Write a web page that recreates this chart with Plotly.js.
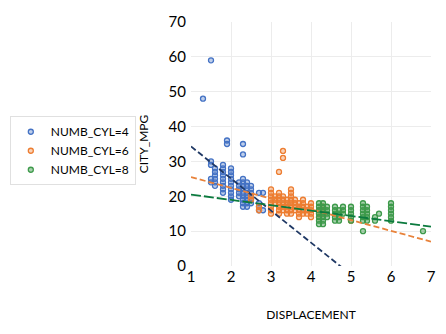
<!DOCTYPE html>
<html><head><meta charset="utf-8">
<script src="https://cdn.plot.ly/plotly-3.0.1.min.js"></script>
<style>html,body{margin:0;padding:0;background:#fff}#chart{width:446px;height:334px}</style>
</head><body><div id="chart"></div>
<script>
// 4 cylinders
const dispCyl4 = [1.3,1.5,1.5,1.5,1.5,1.5,1.6,1.6,1.6,1.6,1.6,1.6,1.8,1.8,1.8,1.8,1.8,1.8,1.8,1.8,1.8,1.9,1.9,
  2.0,2.0,2.0,2.0,2.0,2.0,2.0,2.0,2.0,2.0,2.2,2.2,2.2,2.2,2.2,2.3,2.3,2.3,2.3,2.3,2.3,2.3,2.3,2.3,2.3,2.3,
  2.4,2.4,2.4,2.4,2.4,2.4,2.4,2.4,2.5,2.5,2.5,2.5,2.5,2.5,2.7,2.7,2.7,2.7,2.8,2.8];
const mpgCyl4 = [48,59,30,29,25,24,28,27,26,25,24,23,29,28,27,26,25,24,23,22,21,36,35,
  28,27,26,25,24,23,22,21,20,19,24,23,22,21,20,35,32,25,24,23,22,21,20,19,18,17,
  24,23,22,21,20,19,18,17,23,22,21,20,19,18,21,18,17,16,21,16];
// 6 cylinders
const dispCyl6 = [2.5,2.5,2.7,2.7,3.0,3.0,3.0,3.0,3.0,3.0,3.0,3.0,3.1,3.1,3.1,
  3.2,3.2,3.2,3.2,3.2,3.2,3.2,3.2,3.3,3.3,3.3,3.3,3.3,3.3,3.3,3.4,3.4,3.4,3.4,3.4,
  3.5,3.5,3.5,3.5,3.5,3.5,3.5,3.5,3.6,3.6,3.6,3.6,3.7,3.7,3.7,3.7,3.7,3.8,3.8,3.8,3.8,3.8,
  3.9,3.9,3.9,4.0,4.0,4.0,4.0,4.0,4.2,4.2,4.2,4.3,4.3,4.3,5.0];
const mpgCyl6 = [20,19,17,16,22,21,20,19,18,17,16,15,20,19,18,
  27,21,20,19,18,17,16,15,33,31,20,19,18,17,16,19,18,17,16,15,
  22,21,20,19,18,17,16,15,19,18,17,16,18,17,16,15,14,19,18,17,16,15,
  17,16,15,18,17,16,15,14,16,15,14,17,16,15,13];
// 8 cylinders
const dispCyl8 = [4.2,4.2,4.2,4.2,4.2,4.2,4.2,4.3,4.3,4.3,4.3,4.3,4.3,4.3,4.4,4.4,4.4,4.4,
  4.6,4.6,4.6,4.6,4.6,4.7,4.7,4.7,4.7,4.8,4.8,4.8,5.0,5.0,5.0,5.0,5.0,
  5.3,5.3,5.3,5.3,5.3,5.3,5.3,5.4,5.4,5.4,5.4,5.4,5.6,5.6,5.7,6.0,6.0,6.0,6.0,6.0,6.0,6.8];
const mpgCyl8 = [18,17,16,15,14,13,12,18,17,16,15,14,13,12,17,16,15,14,
  17,16,15,14,13,16,15,14,13,17,16,15,17,16,15,14,13,
  18,17,16,15,14,13,10,17,16,15,14,13,14,13,15,18,17,16,15,14,13,10];
// linear trend lines (endpoints at x = 1 and x = 7)
const trendX = [1, 7];
const trendCyl4 = [34.3, -20.9];
const trendCyl6 = [25.5, 7.0];
const trendCyl8 = [20.5, 11.3];
const seriesNames = ['NUMB_CYL=4','NUMB_CYL=6','NUMB_CYL=8'];

const font = 'Lato, "Open Sans", sans-serif';
function pts(x, y, name, c, fill){
  return {x:x, y:y, name:name, type:'scatter', mode:'markers', cliponaxis:true,
    marker:{size:5, color:fill, line:{color:c, width:1.3}}};
}
function trend(y, c, dash){
  return {x:trendX, y:y, type:'scatter', mode:'lines', showlegend:false, hoverinfo:'skip',
    line:{color:c, width:1.8, dash:dash}};
}
const data = [
  pts(dispCyl4, mpgCyl4, seriesNames[0], '#4472C4', 'rgba(68,114,196,0.35)'),
  pts(dispCyl6, mpgCyl6, seriesNames[1], '#ED7D31', 'rgba(237,125,49,0.35)'),
  pts(dispCyl8, mpgCyl8, seriesNames[2], '#3E9A4B', 'rgba(62,154,75,0.45)'),
  trend(trendCyl4, '#1F3864', '6px,3px'),
  trend(trendCyl6, '#E8823A', '6px,3px'),
  trend(trendCyl8, '#0B7A3E', '10px,3px')
];
const layout = {
  width:446, height:334,
  margin:{l:191, r:15, t:22, b:68, autoexpand:false},
  paper_bgcolor:'#fff', plot_bgcolor:'#fff',
  font:{family:font, size:14, color:'#000'},
  showlegend:true,
  legend:{xref:'container', yref:'container', x:0.022, y:0.652, xanchor:'left', yanchor:'top',
    bordercolor:'#e0e0e0', borderwidth:1,
    font:{family:font, size:12, color:'#000'}, itemsizing:'trace', itemwidth:30, tracegroupgap:0},
  xaxis:{range:[1,7], dtick:1, tick0:1, showgrid:true, gridcolor:'#ececec', zeroline:false,
    showline:false, ticks:'', tickfont:{size:15}, automargin:false,
    title:{text:'DISPLACEMENT', font:{size:12}, standoff:26}},
  yaxis:{range:[0,70], dtick:10, showgrid:true, gridcolor:'#ececec', zeroline:false,
    showline:false, ticks:'', tickfont:{size:15}, automargin:false, ticklabelstandoff:4,
    title:{text:'CITY_MPG', font:{size:12}, standoff:18}}
};
Plotly.newPlot('chart', data, layout, {displayModeBar:false, staticPlot:true});
</script></body></html>
